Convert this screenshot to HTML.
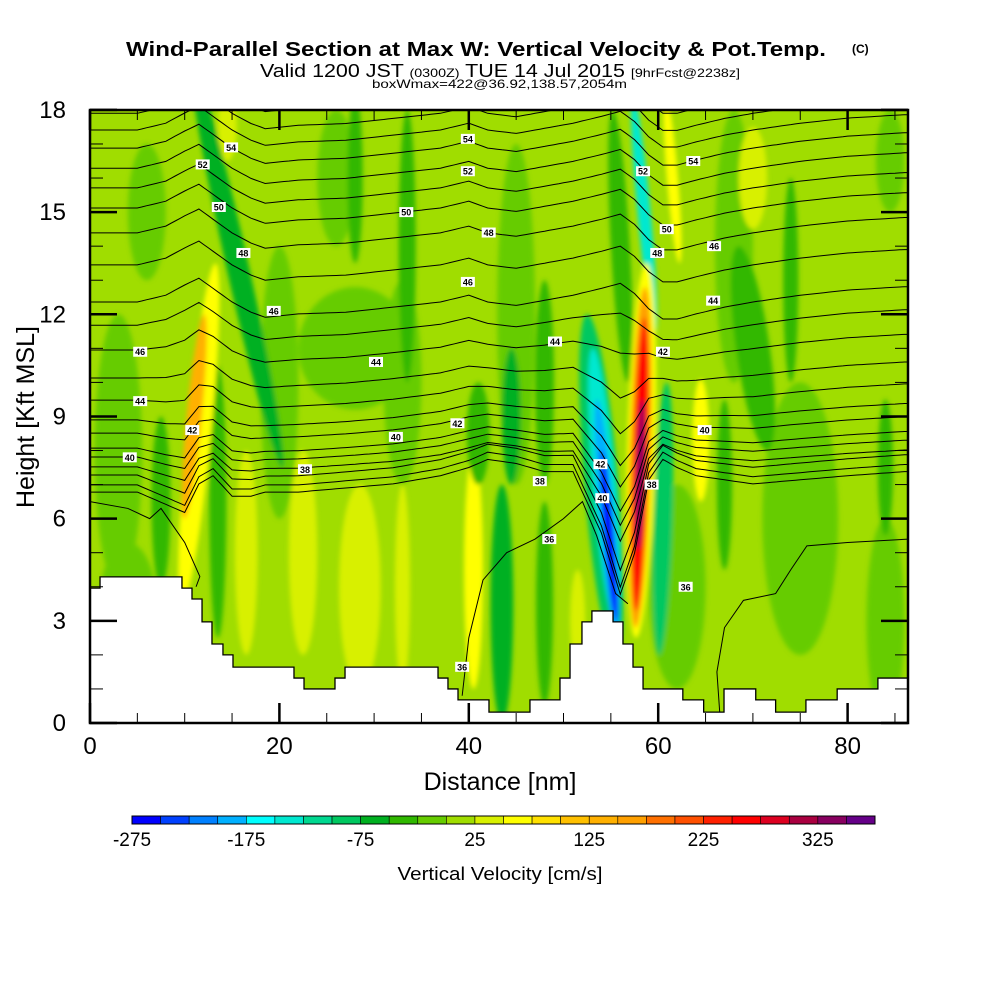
<!DOCTYPE html>
<html><head><meta charset="utf-8"><style>
html,body{margin:0;padding:0;background:#fff}
svg{display:block}
text{font-family:"Liberation Sans",Arial,sans-serif}
</style></head><body>
<svg id="chart" width="1000" height="1000" viewBox="0 0 1000 1000" xmlns="http://www.w3.org/2000/svg">
<defs>
<filter id="soft" x="-50%" y="-50%" width="200%" height="200%"><feGaussianBlur stdDeviation="2.5"/></filter>
<clipPath id="plotclip"><rect x="90" y="110" width="818" height="613"/></clipPath>
</defs>
<g>
<text x="126" y="56" font-size="20" font-weight="bold" textLength="700" lengthAdjust="spacingAndGlyphs">Wind-Parallel Section at Max W: Vertical Velocity &amp; Pot.Temp.</text>
<text x="852" y="53" font-size="12" font-weight="bold">(C)</text>
<text x="260" y="77" font-size="18" textLength="480" lengthAdjust="spacingAndGlyphs">Valid 1200 JST <tspan font-size="12">(0300Z)</tspan> TUE 14 Jul 2015 <tspan font-size="12">[9hrFcst@2238z]</tspan></text>
<text x="372" y="88" font-size="12" textLength="255" lengthAdjust="spacingAndGlyphs">boxWmax=422@36.92,138.57,2054m</text>
</g>
<g id="field" clip-path="url(#plotclip)"></g>
<g id="contours" clip-path="url(#plotclip)"></g>
<g id="terrain"></g>
<g id="axes"></g>
<g id="colorbar"></g>
<text x="500" y="880" text-anchor="middle" font-size="18" textLength="205" lengthAdjust="spacingAndGlyphs">Vertical Velocity [cm/s]</text>
<text x="500" y="790" text-anchor="middle" font-size="25">Distance [nm]</text>
<text transform="translate(34,417) rotate(-90)" text-anchor="middle" font-size="25">Height [Kft MSL]</text>
</svg>
<script>
// ---- data ----
const bgValue = 12;
// vertical-velocity features: centre x (nm), centre height (kft), half-width (nm), half-height (kft), w (cm/s), tilt (nm per kft)
const featX = [3,20,33,45,62,75,84,68,6,26,28,4, 28.5,22.5,33,16.5,14.5,70,64.5,51.5,40.5, 7.5,13.5,15.5,33.5,28,41,44.5,48,43.5,56,70,74,67,84,84.5, 48,11.5,11, 54,54.3,54.6,54.8, 60.5,58.5,61.5, 58.2,58.1,58.1,58.1];
const featY = [8,10,10,12,4,6,3,14,15,16,11,3.5, 4,5,4,5,17.5,16,8.3,3,4.5, 6.5,6.5,13.5,14,16,8.5,9,10,3.5,14,11,13,7,7.5,16.5, 3.5,8.5,9, 7,7,6,5.5, 6,15,16, 8,7.8,7.6,7.3];
const featRX = [2.5,2,2,2,3,4,2,2,2,2,6,3, 2.2,1.5,0.8,1.2,1,1.5,0.9,0.8,1, 1,0.9,1.2,0.9,0.8,1.2,1,1,1.2,1,1.8,0.8,0.8,0.8,1.5, 0.9,1.3,0.8, 1.8,1.2,0.8,0.5, 1,0.7,0.6, 1.5,1.1,0.75,0.4];
const featRY = [4,4,3,5,3,4,3,4,2,2,1.8,1.8, 3,3,3,3,1,1.5,1.8,1.5,3.5, 2.5,4,6,4,2.5,1.5,2,3,3.5,4,3,3,2.5,2,1.5, 3,5,3, 5,4,3.5,2.5, 4,3.5,2.5, 5.5,5,4.3,2.2];
const featW = [-12,-12,-12,-12,-12,-12,-12,-12,-12,-12,-12,-12, 35,25,30,40,35,35,50,45,50, -40,-50,-60,-45,-40,-45,-55,-50,-55,-40,-45,-45,-45,-40,-25, -50,60,140, -90,-140,-200,-260, -90,-130,70, 60,150,260,340];
const featTilt = [0,0,0,0,0,0,0,0,0,0,0,0, 0,0,0,0,0,0,0,0,0, 0,0,-0.8,0,0,0,0,0,0,-0.2,-0.5,0,0,0,0, 0,0.35,0.35, -0.3,-0.3,-0.3,-0.3, 0.1,-0.34,-0.3, 0.1,0.1,0.1,0.1];
// colour scale
const cbColors = ["#0000ff","#0040ff","#0080ff","#00b0ff","#00ffff","#00e8d0","#00d890","#00c860","#00b020","#30b800","#66cc00","#a0dd00","#d8f000","#ffff00","#ffe000","#ffc000","#ffb000","#ffa000","#ff7000","#ff5000","#ff2000","#ff0000","#dd0020","#aa0040","#880060","#660088"];
const cbLabels = [-275,-175,-75,25,125,225,325];
// theta contours
const thetaLevels = [36,37,38,39,40,41,42,43,44,45,46,47,48,49,50,51,52,53,54,55,56,57,58];
const thetaBase = [6.78,6.99,7.28,7.52,7.81,8.07,8.51,8.9,9.48,10.13,10.95,11.68,12.36,13.45,14.39,15.12,15.71,16.29,16.88,17.41,17.9,18.4,18.9];
const stationX = [0,5,8,10,11.5,13,15,17,18.5,22,27,32,37,40,42,45,48,51,54,56,57.5,59,60.5,62,64,67,70,75,80,86];
const dispHigh = [0,0,0.2,0.5,0.7,0.4,0,-0.3,-0.45,-0.35,-0.3,-0.15,0,0.2,0,-0.1,0.05,0.2,0.4,0.55,0.25,-0.2,-0.5,-0.5,-0.35,-0.15,0,0.2,0.35,0.45];
const dispLow = [0,0,-0.3,-0.5,0.2,0.4,-0.1,-0.1,0,0,0.1,0.2,0.4,0.6,0.8,0.7,0.5,0.5,-1,-2.5,-1.5,0.3,0.8,0.6,0.4,0.3,0.2,0.3,0.4,0.5];
const extraA_X = [39.3,40,41.5,44,47,50,52,53.5,55.5,56.8];
const extraA_Y = [0.8,2.5,4.2,5,5.4,6.0,6.5,5.5,3.8,3.5];
const extraB_X = [66.5,66.2,67,69,72.4,74,75.7,80,86.5];
const extraB_Y = [0.3,1.5,2.8,3.6,3.8,4.5,5.2,5.3,5.4];
const extraC_X = [0,4,6.3,7.5,10,11.6,11.2];
const extraC_Y = [6.5,6.3,6.0,6.3,5.3,4.3,4.0];
const labelText = ["54","52","50","48","46","46","44","42","40","44","40","38","42","46","48","50","52","54","36","38","36","44","42","40","38","36","40","42","44","46","48","50","52","54"];
const labelX = [14.9,11.9,13.6,16.2,19.4,5.3,5.3,10.8,4.2,30.2,32.3,22.7,38.8,39.9,42.1,33.4,39.9,39.9,39.3,47.5,48.5,49.1,53.9,54.1,59.3,62.9,64.9,60.5,65.8,65.9,59.9,60.9,58.4,63.7];
const labelY = [16.9,16.4,15.15,13.8,12.1,10.9,9.45,8.6,7.8,10.6,8.4,7.45,8.8,12.95,14.4,15.0,16.2,17.15,1.65,7.1,5.4,11.2,7.6,6.6,7.0,4.0,8.6,10.9,12.4,14.0,13.8,14.5,16.2,16.5];
// terrain steps: segment start (nm) and height (kft)
const terrStart = [0,1.06,9.71,10.77,11.83,12.88,14.04,15.1,21.54,22.6,25.87,26.93,36.75,37.8,38.86,42.13,46.46,49.63,50.69,51.95,53.0,55.23,56.28,57.34,58.4,62.6,64.8,66.95,70.3,72.4,75.6,78.9,83.2];
const terrH = [3.96,4.29,3.96,3.64,2.97,2.32,2.0,1.64,1.32,1.0,1.32,1.64,1.32,1.0,0.68,0.32,0.68,1.32,2.32,2.97,3.29,2.97,2.32,1.64,1.0,0.68,0.32,1.0,0.68,0.32,0.68,1.0,1.32];
const xTicks = [0,20,40,60,80];
const yTicks = [0,3,6,9,12,15,18];

// ---- scales ----
const NS = "http://www.w3.org/2000/svg";
const X = nm => 90 + nm * 9.47;
const Y = k => 723 - k * 34.06;
const XMAX = 86.38;
function colorOf(v){ let i = Math.floor((v + 275) / 25); i = Math.max(0, Math.min(25, i)); return cbColors[i]; }
function mk(tag, attrs, parent){ const e = document.createElementNS(NS, tag); for (const k in attrs) e.setAttribute(k, attrs[k]); parent.appendChild(e); return e; }

// ---- field ----
const field = document.getElementById('field');
const bg = mk('rect', {x:90, y:110, width:818, height:613, fill:colorOf(bgValue)}, field);


const fg = mk('g', {filter:'url(#soft)'}, field);
for (let i = 0; i < featX.length; i++) {
  const cx = X(featX[i]), cy = Y(featY[i]);
  const tiltPx = featTilt[i] * 9.47 / 34.06;
  const ang = -Math.atan(tiltPx) * 180 / Math.PI;
  const el = mk('ellipse', {cx:0, cy:0, rx:featRX[i]*9.47, ry:featRY[i]*34.06, fill:colorOf(featW[i]), transform:`translate(${cx},${cy}) skewX(${ang})`}, fg);
  
  
}

// ---- contours ----
const cg = document.getElementById('contours');
function interp(arr, x){ for (let i = 0; i < stationX.length - 1; i++) { if (x <= stationX[i+1]) { const t = (x - stationX[i]) / (stationX[i+1] - stationX[i]); return arr[i] + t * (arr[i+1] - arr[i]); } } return arr[arr.length-1]; }
thetaLevels.forEach((lv, j) => {
  const base = thetaBase[j];
  const f = Math.max(0, Math.min(1, (base - 7) / 5));
  const amp = base < 7.5 ? 1.2 : 1;
  const pts = [];
  for (let x = 0; x <= XMAX + 0.5; x += 0.5) {
    const h = base + amp * ((1 - f) * interp(dispLow, x) + f * interp(dispHigh, x));
    pts.push(X(x).toFixed(1) + ',' + Y(h).toFixed(1));
  }
  const pl = mk('polyline', {points:pts.join(' '), fill:'none', stroke:'#000', 'stroke-width':1}, cg);
  
  
});
[[extraA_X, extraA_Y], [extraB_X, extraB_Y], [extraC_X, extraC_Y]].forEach(([xs, ys]) => {
  const pl = mk('polyline', {points:xs.map((x, i) => X(x) + ',' + Y(ys[i])).join(' '), fill:'none', stroke:'#000', 'stroke-width':1}, cg);
  
  
});
labelText.forEach((t, i) => {
  const g = mk('g', {}, cg);
  
  
  mk('rect', {x:X(labelX[i]) - 7, y:Y(labelY[i]) - 5, width:14, height:10, fill:'#fff'}, g);
  const tx = mk('text', {x:X(labelX[i]), y:Y(labelY[i]) + 3.5, 'text-anchor':'middle', 'font-size':9, 'font-weight':'bold'}, g);
  tx.textContent = t;
});

// ---- terrain ----
const tg = document.getElementById('terrain');
let d = 'M90,723';
for (let i = 0; i < terrStart.length; i++) {
  const x0 = X(terrStart[i]), x1 = i + 1 < terrStart.length ? X(terrStart[i+1]) : 908;
  d += ` L${x0},${Y(terrH[i])} L${x1},${Y(terrH[i])}`;
}
d += ' L908,723 Z';
mk('path', {d:d, fill:'#fff', stroke:'#000', 'stroke-width':1.3}, tg);

// ---- axes ----
const ag = document.getElementById('axes');
mk('rect', {x:90, y:110, width:818, height:613, fill:'none', stroke:'#000', 'stroke-width':2.5}, ag);
for (let k = 0; k <= 18; k++) {
  const y = Y(k), major = k % 3 === 0, L = major ? 27 : 13, w = major ? 2.5 : 1;
  mk('line', {x1:90, y1:y, x2:90 + L, y2:y, stroke:'#000', 'stroke-width':w}, ag);
  mk('line', {x1:908, y1:y, x2:908 - L, y2:y, stroke:'#000', 'stroke-width':w}, ag);
}
for (let n = 0; n <= 85; n += 5) {
  const x = X(n), major = n % 20 === 0, L = major ? 20 : 10, w = major ? 2.5 : 1;
  mk('line', {x1:x, y1:723, x2:x, y2:723 - L, stroke:'#000', 'stroke-width':w}, ag);
  mk('line', {x1:x, y1:110, x2:x, y2:110 + L, stroke:'#000', 'stroke-width':w}, ag);
}
yTicks.forEach(v => {
  const t = mk('text', {x:66, y:Y(v) + 8, 'text-anchor':'end', 'font-size':24}, ag);
  
  
  t.textContent = v;
});
xTicks.forEach(v => {
  const t = mk('text', {x:X(v), y:754, 'text-anchor':'middle', 'font-size':24}, ag);
  
  
  t.textContent = v;
});

// ---- colorbar ----
const cbg = document.getElementById('colorbar');
const cbX0 = 132, cbW = (875 - 132) / cbColors.length;
cbColors.forEach((c, i) => {
  const r = mk('rect', {x:cbX0 + i * cbW, y:816, width:cbW, height:8, fill:c, stroke:'#000', 'stroke-width':0.6}, cbg);
  
  
});
mk('rect', {x:cbX0, y:816, width:875 - cbX0, height:8, fill:'none', stroke:'#000', 'stroke-width':1}, cbg);
cbLabels.forEach(v => {
  const t = mk('text', {x:cbX0 + (v + 275) / 25 * cbW, y:846, 'text-anchor':'middle', 'font-size':19}, cbg);
  
  
  t.textContent = v;
});
</script>
</body></html>
